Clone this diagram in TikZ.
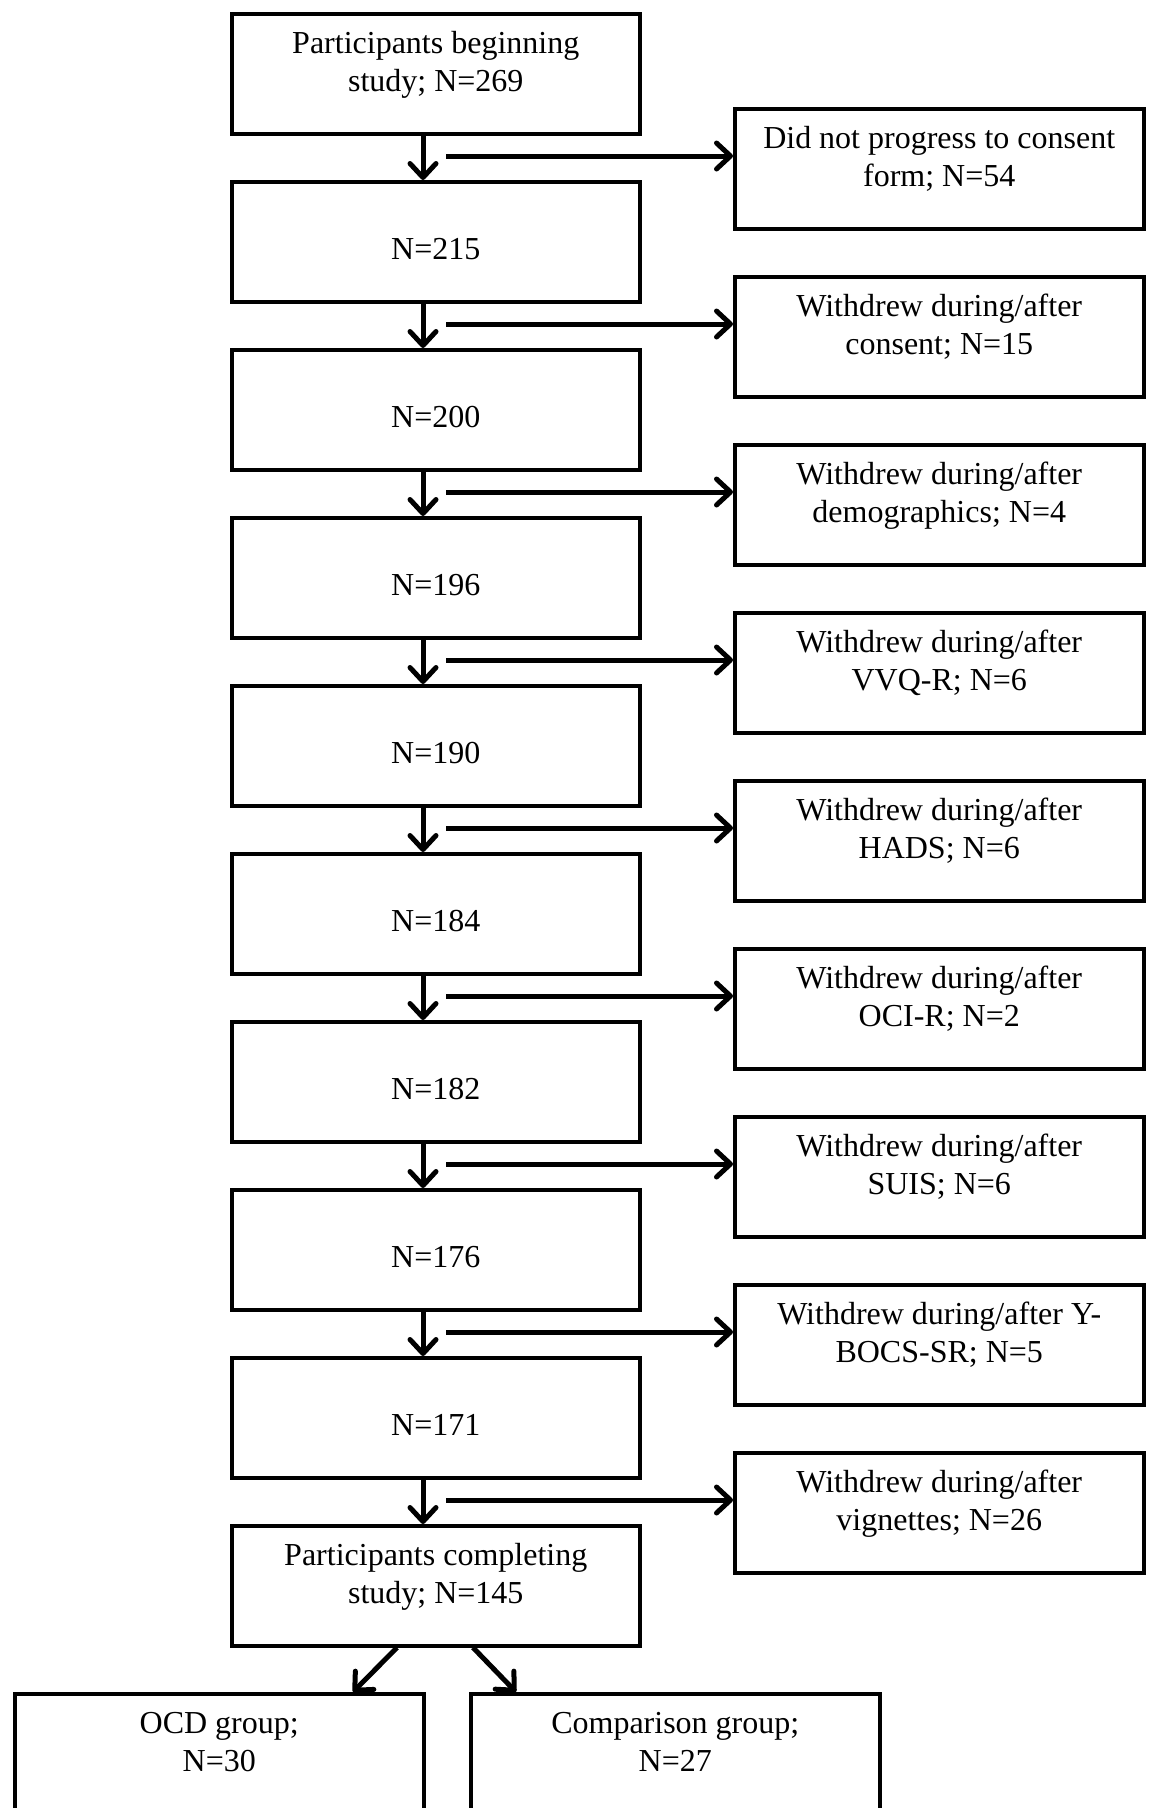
\documentclass[tikz,border=0pt]{standalone}
\usepackage{fontspec}
\setmainfont{Liberation Serif}
\usetikzlibrary{arrows.meta,calc}
\newcommand\bxt[4][120pt]{\parbox[c][#1][t]{#2}{\centering\rule{0pt}{#3}#4}}
\begin{document}
\begin{tikzpicture}[x=1pt,y=-1pt,
  every node/.style={font=\fontsize{32}{38}\selectfont},
  box/.style={draw, line width=3.5pt, inner sep=0pt, anchor=north west},
  arr/.style={line width=5pt, -{Straight Barb[length=14pt,width=26pt,round]}}]
\useasboundingbox[fill=white] (0,0) rectangle (1152,1808);
% left column
\node[box] (L0) at (230,12)   {\bxt{408pt}{40pt}{Participants beginning\\study; N=269}};
\node[box] (L1) at (230,180)  {\bxt{408pt}{78pt}{N=215}};
\node[box] (L2) at (230,348)  {\bxt{408pt}{78pt}{N=200}};
\node[box] (L3) at (230,516)  {\bxt{408pt}{78pt}{N=196}};
\node[box] (L4) at (230,684)  {\bxt{408pt}{78pt}{N=190}};
\node[box] (L5) at (230,852)  {\bxt{408pt}{78pt}{N=184}};
\node[box] (L6) at (230,1020) {\bxt{408pt}{78pt}{N=182}};
\node[box] (L7) at (230,1188) {\bxt{408pt}{78pt}{N=176}};
\node[box] (L8) at (230,1356) {\bxt{408pt}{78pt}{N=171}};
\node[box] (L9) at (230,1524) {\bxt{408pt}{40pt}{Participants completing\\study; N=145}};
% right column
\node[box] (R0) at (733,107)  {\bxt{409pt}{40pt}{Did not progress to consent\\form; N=54}};
\node[box] (R1) at (733,275)  {\bxt{409pt}{40pt}{Withdrew during/after\\consent; N=15}};
\node[box] (R2) at (733,443)  {\bxt{409pt}{40pt}{Withdrew during/after\\demographics; N=4}};
\node[box] (R3) at (733,611)  {\bxt{409pt}{40pt}{Withdrew during/after\\VVQ-R; N=6}};
\node[box] (R4) at (733,779)  {\bxt{409pt}{40pt}{Withdrew during/after\\HADS; N=6}};
\node[box] (R5) at (733,947)  {\bxt{409pt}{40pt}{Withdrew during/after\\OCI-R; N=2}};
\node[box] (R6) at (733,1115) {\bxt{409pt}{40pt}{Withdrew during/after\\SUIS; N=6}};
\node[box] (R7) at (733,1283) {\bxt{409pt}{40pt}{Withdrew during/after Y-\\BOCS-SR; N=5}};
\node[box] (R8) at (733,1451) {\bxt{409pt}{40pt}{Withdrew during/after\\vignettes; N=26}};
% groups
\node[box] (G1) at (13,1692)  {\bxt[135pt]{409pt}{40pt}{OCD group;\\N=30}};
\node[box] (G2) at (469,1692) {\bxt[135pt]{409pt}{40pt}{Comparison group;\\N=27}};
% vertical arrows
\coordinate (vx) at (423,0);
\foreach \a/\b in {L0/L1,L1/L2,L2/L3,L3/L4,L4/L5,L5/L6,L6/L7,L7/L8,L8/L9}
  \draw[arr] (\a.south -| vx) -- (\b.north -| vx);
% horizontal arrows
\foreach \k in {0,...,8}{
  \coordinate (h\k) at (446,{156+168*\k});
  \draw[arr] (h\k) -- (h\k -| R\k.west);
}
% diagonal arrows
\coordinate (dl1) at (397,0);
\coordinate (dl2) at (353,0);
\coordinate (dr1) at (473,0);
\coordinate (dr2) at (516,0);
\draw[arr] (L9.south -| dl1) -- (G1.north -| dl2);
\draw[arr] (L9.south -| dr1) -- (G2.north -| dr2);
\end{tikzpicture}
\end{document}
